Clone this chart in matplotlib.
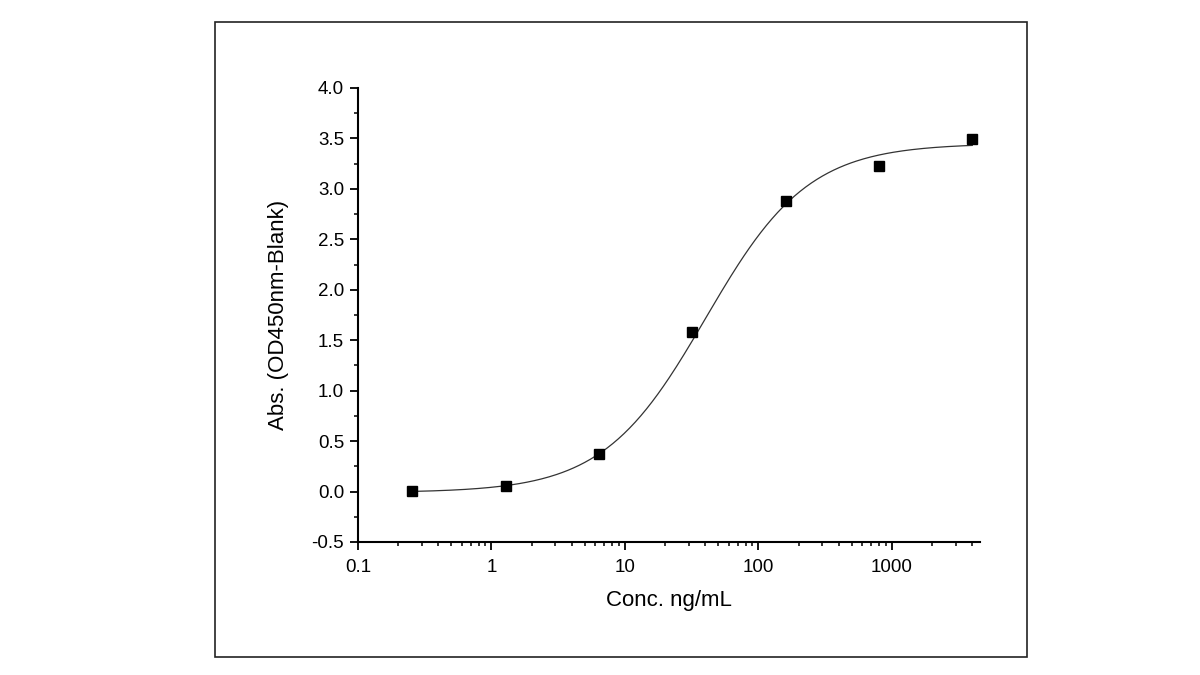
import numpy as np
import matplotlib.pyplot as plt
from matplotlib.patches import Rectangle
from matplotlib.ticker import LogLocator, FixedLocator, MultipleLocator, FixedFormatter

plt.rcParams['font.family'] = ['Liberation Sans', 'DejaVu Sans']

# measured points (5-fold dilution series)
conc = [0.256, 1.28, 6.4, 32, 160, 800, 4000]
absorb = [0.01, 0.06, 0.37, 1.58, 2.88, 3.23, 3.49]

# 4-parameter logistic fit, parameters
bottom, top, ec50, hill = -0.01, 3.45, 40.3, 1.13

def four_pl(x):
    return bottom + (top - bottom) / (1 + (ec50 / x) ** hill)

fig = plt.figure(figsize=(12, 6.75), dpi=100)
fig.patches.append(Rectangle((215/1200, 1-657/675), (1027-215)/1200, (657-22)/675,
                             transform=fig.transFigure, fill=False,
                             edgecolor='#222222', linewidth=1.2))

ax = fig.add_axes([358/1200, 1-542/675, (980-358)/1200, (542-88)/675])
xs = np.logspace(np.log10(conc[0]), np.log10(conc[-1]), 300)
ax.plot(xs, four_pl(xs), color='#333333', linewidth=0.9)
ax.plot(conc, absorb, 's', color='black', markersize=6.5)

ax.set_xscale('log')
ax.set_xlim(0.1, 4570)
ax.set_ylim(-0.5, 4.0)
ax.xaxis.set_major_locator(FixedLocator([0.1, 1, 10, 100, 1000]))
ax.xaxis.set_major_formatter(FixedFormatter(['0.1', '1', '10', '100', '1000']))
ax.xaxis.set_minor_locator(LogLocator(base=10, subs=np.arange(2, 10), numticks=20))
ax.yaxis.set_major_locator(MultipleLocator(0.5))
ax.yaxis.set_minor_locator(MultipleLocator(0.25))
ax.yaxis.set_major_formatter(plt.FuncFormatter(lambda v, p: f'{v:.1f}'))

for s in ['top', 'right']:
    ax.spines[s].set_visible(False)
for s in ['left', 'bottom']:
    ax.spines[s].set_linewidth(1.5)
ax.tick_params(which='major', direction='out', length=6, width=1.3, labelsize=13.5)
ax.tick_params(which='minor', direction='out', length=3, width=1.1)
ax.tick_params(axis='x', which='major', pad=6)
ax.tick_params(axis='y', which='major', pad=4)

ax.set_xlabel('Conc. ng/mL', fontsize=16, labelpad=10)
ax.set_ylabel('Abs. (OD450nm-Blank)', fontsize=16, labelpad=16)

plt.savefig('out.png', dpi=100)
